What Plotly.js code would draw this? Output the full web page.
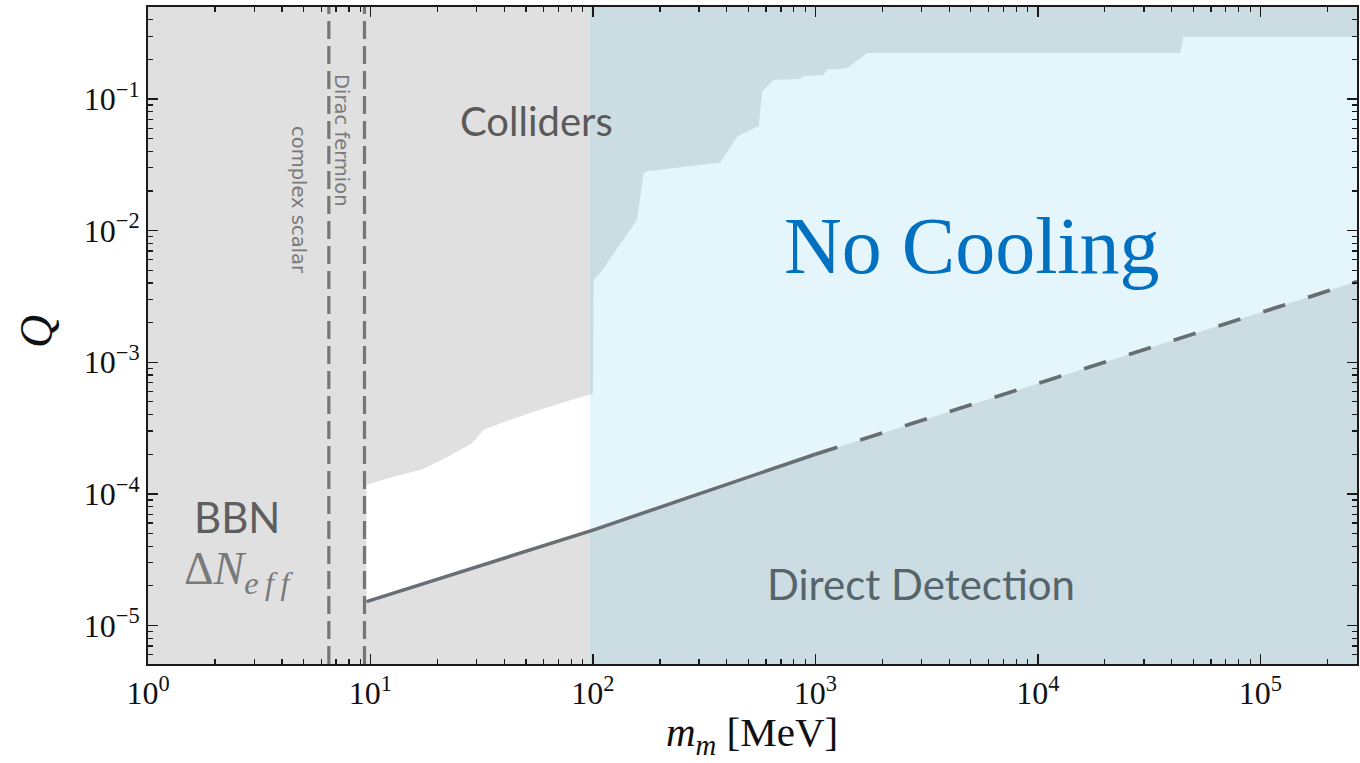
<!DOCTYPE html>
<html>
<head>
<meta charset="utf-8">
<script src="https://cdn.plot.ly/plotly-3.0.1.min.js"></script>
<style>html,body{margin:0;padding:0;background:#fff;}#chart{width:1360px;height:763px;}</style>
</head>
<body>
<div id="chart"></div>
<script>
// ---- data ----
// Direct-detection bound: solid part and extrapolated (dashed) part
const ddSolidM = [9.6, 20, 34, 50, 100, 300, 1000];
const ddSolidQ = [1.52e-5, 2.25e-5, 3.0e-5, 3.66e-5, 5.3e-5, 1.0e-4, 2.0e-4];
const ddDashM = [1000, 3000, 1e4, 3e4, 1e5, 2.72e5];
const ddDashQ = [2.0e-4, 3.6e-4, 6.9e-4, 1.25e-3, 2.38e-3, 4.1e-3];
// Collider bound (lower edge of excluded region)
const colM = [9.6, 12.1, 17.1, 21.7, 28.6, 32.3, 40.4, 59.1, 80.6, 100, 100.8, 108, 158, 169, 175, 374, 445, 556, 576, 650, 857, 872, 1089, 1129, 1387, 1708, 43650, 45100, 2.72e5];
const colQ = [1.17e-4, 1.32e-4, 1.54e-4, 1.87e-4, 2.43e-4, 3.07e-4, 3.55e-4, 4.41e-4, 5.19e-4, 5.8e-4, 4.24e-3, 4.79e-3, 1.21e-2, 2.74e-2, 2.82e-2, 3.30e-2, 5.20e-2, 6.24e-2, 0.114, 0.140, 0.142, 0.149, 0.153, 0.167, 0.171, 0.224, 0.224, 0.297, 0.297];
// BBN bounds (vertical dashed lines): complex scalar, Dirac fermion
const bbnM = [6.5, 9.4];
const bbnLabels = ['complex scalar', 'Dirac fermion'];
// "No Cooling" (stellar cooling) mass window
const coolM = [97, 2.72e5];
// axis ranges
const mRange = [1, 2.72e5];
const qRange = [5.1e-6, 0.5];
// tick labels and axis titles
const xTickVals = [1, 10, 100, 1000, 1e4, 1e5];
const xTickText = ['10<sup>0</sup>', '10<sup>1</sup>', '10<sup>2</sup>', '10<sup>3</sup>', '10<sup>4</sup>', '10<sup>5</sup>'];
const yTickVals = [1e-5, 1e-4, 1e-3, 1e-2, 1e-1];
const yTickText = ['10<sup>−5</sup>', '10<sup>−4</sup>', '10<sup>−3</sup>', '10<sup>−2</sup>', '10<sup>−1</sup>'];
const xTitle = '<i>m<sub>m</sub></i> [MeV]';
const yTitle = '<i>Q</i>';

// minor ticks 2..9 in each decade
function minorTicks(lo, hi) {
  const out = [];
  for (let e = Math.floor(Math.log10(lo)); e <= Math.ceil(Math.log10(hi)); e++) {
    for (let d = 2; d <= 9; d++) { const v = d * Math.pow(10, e); if (v > lo && v < hi) out.push(v); }
  }
  return out;
}

// allowed (white) region: between direct-detection line and collider bound
const ddAllM = ddSolidM.concat(ddDashM.slice(1));
const ddAllQ = ddSolidQ.concat(ddDashQ.slice(1));
const whiteX = ddAllM.concat(colM.slice().reverse());
const whiteY = ddAllQ.concat(colQ.slice().reverse());

const traces = [
  { x: whiteX, y: whiteY, mode: 'lines', fill: 'toself', fillcolor: '#ffffff', line: { width: 0, color: 'rgba(0,0,0,0)' }, hoverinfo: 'skip', showlegend: false },
  { x: [coolM[0], coolM[1], coolM[1], coolM[0], coolM[0]], y: [qRange[0] / 10, qRange[0] / 10, qRange[1] * 10, qRange[1] * 10, qRange[0] / 10],
    mode: 'lines', fill: 'toself', fillcolor: 'rgba(115,203,239,0.19)', line: { width: 0, color: 'rgba(0,0,0,0)' }, hoverinfo: 'skip', showlegend: false },
  { x: ddSolidM, y: ddSolidQ, mode: 'lines', line: { color: '#676f72', width: 3.5 }, showlegend: false },
  { x: ddDashM, y: ddDashQ, mode: 'lines', line: { color: '#676f72', width: 3.8, dash: '23px,24px' }, showlegend: false },
];
bbnM.forEach(m => traces.push({ x: [m, m], y: [qRange[0], qRange[1]], mode: 'lines', line: { color: '#767676', width: 3.2, dash: '18px,7px' }, showlegend: false }));

const W = 1209, H = 657, L = 148, T = 7;
const px = v => (v - L) / W;
const py = v => (T + H - v) / H;

const annotations = [
  { text: 'Colliders', x: px(536), y: py(121), font: { family: 'Lato', size: 40, color: '#5a5a5a' } },
  { text: 'No Cooling', x: px(972), y: py(246), font: { family: 'Liberation Serif', size: 80, color: '#0070c0' } },
  { text: 'Direct Detection', x: px(921), y: py(584), font: { family: 'Lato', size: 42, color: '#56656b' } },
  { text: 'BBN', x: px(237), y: py(517), font: { family: 'Lato', size: 42, color: '#5e5e5e' } },
  { text: 'Δ<i>N</i><sub><i>e\u2009f\u2009f</i></sub>', x: px(238), y: py(572), font: { family: 'Liberation Serif', size: 46, color: '#7a7a7a' } },
  { text: bbnLabels[0], x: px(299), y: py(200), textangle: 90, font: { family: 'DejaVu Sans', size: 19.5, color: '#7a7a7a' } },
  { text: bbnLabels[1], x: px(342), y: py(140), textangle: 90, font: { family: 'DejaVu Sans', size: 19.5, color: '#7a7a7a' } },
  { text: xTitle, x: px(752), y: py(735), font: { family: 'Liberation Serif', size: 41, color: '#111' } },
  { text: yTitle, x: px(36), y: py(332), textangle: -90, font: { family: 'Liberation Serif', size: 46, color: '#111' } },
].map(a => Object.assign({ xref: 'paper', yref: 'paper', showarrow: false, xanchor: 'center', yanchor: 'middle' }, a));

const axisCommon = {
  type: 'log', showgrid: false, zeroline: false, showline: true, linecolor: '#1a1a1a', linewidth: 2,
  ticks: 'inside', ticklen: 10, tickwidth: 1.5, tickcolor: '#1a1a1a', mirror: 'allticks',
  tickmode: 'array', tickfont: { family: 'Liberation Serif', size: 32, color: '#111' },
};

const layout = {
  width: 1360, height: 763,
  margin: { l: L, r: 1360 - L - W, t: T, b: 763 - T - H },
  paper_bgcolor: '#ffffff', plot_bgcolor: '#e0e0e0',
  showlegend: false,
  xaxis: Object.assign({}, axisCommon, {
    range: [Math.log10(mRange[0]), Math.log10(mRange[1])],
    tickvals: xTickVals, ticktext: xTickText,
    minor: { tickvals: minorTicks(mRange[0], mRange[1]), ticks: 'inside', ticklen: 5, tickwidth: 1.2, tickcolor: '#1a1a1a' },
  }),
  yaxis: Object.assign({}, axisCommon, {
    range: [Math.log10(qRange[0]), Math.log10(qRange[1])],
    tickvals: yTickVals, ticktext: yTickText,
    minor: { tickvals: minorTicks(qRange[0], qRange[1]), ticks: 'inside', ticklen: 5, tickwidth: 1.2, tickcolor: '#1a1a1a' },
  }),
  annotations: annotations,
};

Plotly.newPlot('chart', traces, layout, { displayModeBar: false, staticPlot: true });
</script>
</body>
</html>
